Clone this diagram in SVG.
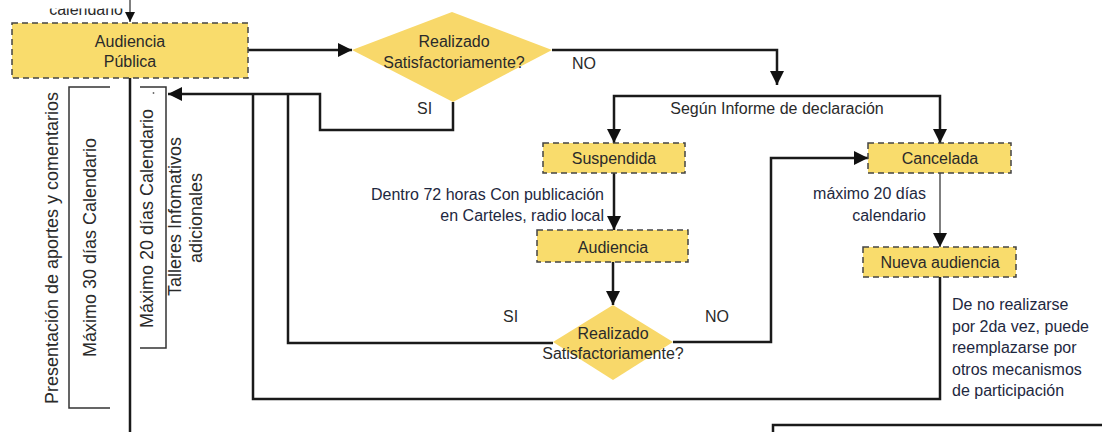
<svg xmlns="http://www.w3.org/2000/svg" width="1102" height="432" viewBox="0 0 1102 432">
<style>
text{font-family:"Liberation Sans",Arial,sans-serif;font-size:16px;fill:#2a2a2a}
.c{text-anchor:middle}
.r{text-anchor:end}
.n{fill:#1e2840}
.v{font-size:18px;text-anchor:middle}
.box{fill:#F9DC6C;stroke:#444;stroke-width:1.5;stroke-dasharray:6 4}
.dia{fill:#F8D86A}
.ln{fill:none;stroke:#1a1a1a;stroke-width:2.5}
.thin{fill:none;stroke:#555;stroke-width:1.5}
.br{fill:none;stroke:#333;stroke-width:1.5}
</style>
<defs>
<marker id="ah" markerUnits="userSpaceOnUse" markerWidth="14" markerHeight="14" refX="14" refY="7" orient="auto"><path d="M0,0L14,7L0,14Z" fill="#111"/></marker>
<marker id="as" markerUnits="userSpaceOnUse" markerWidth="10" markerHeight="10" refX="10" refY="5" orient="auto"><path d="M0,0L10,5L0,10Z" fill="#111"/></marker>
<clipPath id="clipTop"><rect x="0" y="8.5" width="200" height="20"/></clipPath>
</defs>

<g id="connectors">
<path class="thin" d="M130,0V22" marker-end="url(#as)"/>
<path class="ln" d="M130,78V432"/>
<path class="ln" d="M248,50H352" marker-end="url(#ah)"/>
<path class="ln" d="M552,50H777V85" marker-end="url(#ah)"/>
<path class="ln" d="M777,96H614V143" marker-end="url(#ah)"/>
<path class="ln" d="M777,96H940V143" marker-end="url(#ah)"/>
<path class="ln" d="M453,102V130H320V94H168" marker-end="url(#ah)"/>
<path class="ln" d="M253,94V399H940V277"/>
<path class="ln" d="M288,94V343H553"/>
<path class="ln" d="M614,173V230" marker-end="url(#ah)"/>
<path class="ln" d="M613,262V305" marker-end="url(#ah)"/>
<path class="ln" d="M673,342H771V158H868" marker-end="url(#ah)"/>
<path class="thin" d="M940,173V247" marker-end="url(#ah)"/>
<path class="ln" d="M773,432V425H1102"/>
</g>

<g id="label-calendario" clip-path="url(#clipTop)"><text x="123" y="15" class="r">calendario</text></g>

<g id="audiencia-publica">
<rect class="box" x="12" y="23" width="236" height="55"/>
<text x="130" y="47" class="c">Audiencia</text>
<text x="130" y="67" class="c">Pública</text>
</g>

<g id="decision1">
<polygon class="dia" points="352,50 452,12 552,50 453,102"/>
<text x="454" y="47" class="c">Realizado</text>
<text x="454" y="68" class="c">Satisfactoriamente?</text>
</g>
<g id="labels-d1">
<text x="572" y="69">NO</text>
<text x="417" y="114">SI</text>
<text x="777" y="114" class="c">Según Informe de declaración</text>
</g>

<g id="suspendida">
<rect class="box" x="543" y="143" width="142" height="30"/>
<text x="614" y="164" class="c">Suspendida</text>
</g>
<g id="label-72h">
<text x="604" y="200" class="r n">Dentro 72 horas Con publicación</text>
<text x="604" y="221" class="r n">en Carteles, radio local</text>
</g>
<g id="audiencia">
<rect class="box" x="537" y="230" width="151" height="32"/>
<text x="613" y="253" class="c">Audiencia</text>
</g>

<g id="decision2">
<polygon class="dia" points="553,342 613,305 673,342 613,380"/>
<text x="613" y="339" class="c">Realizado</text>
<text x="613" y="359" class="c">Satisfactoriamente?</text>
</g>
<g id="labels-d2">
<text x="503" y="322">SI</text>
<text x="705" y="322">NO</text>
</g>

<g id="cancelada">
<rect class="box" x="868" y="143" width="143" height="30"/>
<text x="940" y="164" class="c">Cancelada</text>
</g>
<g id="label-20dias">
<text x="926" y="199" class="r n">máximo 20 días</text>
<text x="926" y="221" class="r n">calendario</text>
</g>
<g id="nueva-audiencia">
<rect class="box" x="863" y="247" width="153" height="30"/>
<text x="940" y="268" class="c">Nueva audiencia</text>
</g>
<g id="label-denoreal">
<text x="952" y="310" class="n">De no realizarse</text>
<text x="952" y="331.5" class="n">por 2da vez, puede</text>
<text x="952" y="353" class="n">reemplazarse por</text>
<text x="952" y="374.5" class="n">otros mecanismos</text>
<text x="952" y="396" class="n">de participación</text>
</g>

<g id="bracket-30dias">
<path class="br" d="M110,87H69V408H110"/>
<text class="v" transform="translate(58,248) rotate(-90)">Presentación de aportes y comentarios</text>
<text class="v" transform="translate(96,247.5) rotate(-90)">Máximo 30 días Calendario</text>
</g>
<g id="bracket-20dias">
<path class="br" d="M140,87H166V348H140"/>
<circle cx="153.5" cy="93" r="0.9" fill="#666"/>
<text class="v" transform="translate(153,218.5) rotate(-90)">Máximo 20 días Calendario</text>
<text class="v" transform="translate(181,216.5) rotate(-90)">Talleres Infomativos</text>
<text class="v" transform="translate(202,218) rotate(-90)">adicionales</text>
</g>
</svg>
